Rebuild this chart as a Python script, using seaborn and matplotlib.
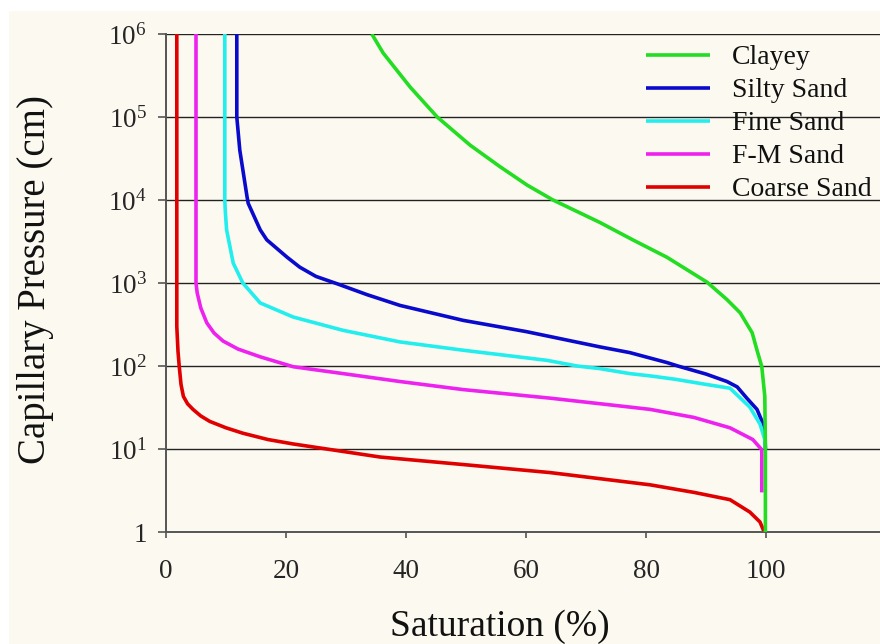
import numpy as np
import pandas as pd
import matplotlib
matplotlib.use("Agg")
import matplotlib.pyplot as plt
from matplotlib.patches import Rectangle
import seaborn as sns

# ---------------- data ----------------
soils = ["Clayey", "Silty Sand", "Fine Sand", "F-M Sand", "Coarse Sand"]

clayey_sat = [34.3, 36.2, 40.7, 45.2, 50.7, 55.7, 60.2, 64.5, 72.3, 77.8, 83.5, 90.2, 93.5, 95.7,
              97.7, 98.5, 99.3, 99.8, 99.9, 99.9]
clayey_p = [1e6, 589000, 229000, 1e5, 45700, 25100, 15100, 1e4, 5370, 3310, 2040, 1020, 631, 437,
            251, 155, 98, 43, 10, 1]

silty_sat = [11.8, 11.8, 12.3, 13.5, 13.7, 15.7, 16.8, 20.2, 22.3, 25.0, 28.5, 33.5, 39.0, 49.5, 60.0,
             72.3, 77.3, 83.5, 85.3, 90.0, 93.5, 95.2, 96.8, 98.5, 99.8, 99.9]
silty_p = [1e6, 1e5, 39800, 11000, 9120, 4370, 3310, 2040, 1550, 1200, 980, 724, 537, 355, 260,
           170, 145, 110, 100, 80, 65, 56, 41, 30, 18, 10]

fine_sat = [9.8, 9.8, 9.9, 10.1, 11.2, 12.8, 15.7, 21.2, 29.5, 39.0, 49.5, 63.5, 68.5, 72.3,
            77.3, 80.7, 85.0, 90.0, 94.0, 97.3, 99.0, 99.8, 99.9]
fine_p = [1e6, 1e4, 7000, 4370, 1740, 1000, 575, 389, 269, 195, 155, 117, 100, 93,
          81, 76, 69, 60, 54, 32, 20, 13, 10]

fm_sat = [5.0, 5.0, 5.2, 5.8, 6.8, 8.0, 9.5, 12.0, 15.7, 21.2, 29.5, 39.0, 49.5, 64.0, 77.3,
          80.7, 88.0, 94.0, 97.8, 99.3, 99.3]
fm_p = [1e6, 1000, 759, 500, 331, 250, 200, 160, 129, 98, 81, 65, 52, 41, 32,
        30, 24, 18, 13, 9.8, 3.0]

coarse_sat = [1.8, 1.8, 2.0, 2.2, 2.5, 2.9, 3.6, 4.5, 5.8, 7.3, 10.0, 12.8, 17.0, 21.2, 28.0,
              35.7, 49.5, 64.0, 80.7, 88.0, 94.0, 97.3, 99.0, 99.7]
coarse_p = [1e6, 300, 150, 100, 60, 43, 35, 30, 25, 21.5, 18, 15.5, 13, 11.5, 9.7,
            8.0, 6.5, 5.2, 3.7, 3.0, 2.45, 1.74, 1.32, 1.0]

x_ticks = [0, 20, 40, 60, 80, 100]
y_ticks = [1, 1e1, 1e2, 1e3, 1e4, 1e5, 1e6]
y_tick_labels = ["1", r"$\mathregular{10^{1}}$", r"$\mathregular{10^{2}}$", r"$\mathregular{10^{3}}$",
                 r"$\mathregular{10^{4}}$", r"$\mathregular{10^{5}}$", r"$\mathregular{10^{6}}$"]

colors = ["#22DD22", "#0A0ACC", "#22EEEE", "#EE22EE", "#E00000"]

series = {
    "Clayey": (clayey_sat, clayey_p),
    "Silty Sand": (silty_sat, silty_p),
    "Fine Sand": (fine_sat, fine_p),
    "F-M Sand": (fm_sat, fm_p),
    "Coarse Sand": (coarse_sat, coarse_p),
}
frames = []
for name in soils:
    s, p = series[name]
    frames.append(pd.DataFrame({"sat": s, "p": p, "soil": name}))
df = pd.concat(frames, ignore_index=True)

# ---------------- style ----------------
sns.set_theme(style="white")
plt.rcParams["font.family"] = ["Liberation Serif", "DejaVu Serif"]
plt.rcParams["mathtext.default"] = "regular"

cream = "#FCFAF0"
W, H = 880, 644
fig = plt.figure(figsize=(W / 100, H / 100), dpi=100)
fig.patch.set_facecolor("white")
fig.patches.append(Rectangle((9 / W, 0), 1, (H - 11) / H, transform=fig.transFigure,
                             facecolor=cream, edgecolor="none", zorder=-10))

x0, x1 = 166, 886
yb, yt = 532, 34
ax = fig.add_axes([x0 / W, (H - yb) / H, (x1 - x0) / W, (yb - yt) / H])
ax.set_facecolor(cream)

sns.lineplot(data=df, x="sat", y="p", hue="soil", hue_order=soils, palette=colors,
             estimator=None, sort=False, units="soil", linewidth=2.6, legend=False, ax=ax)
ax.set_yscale("log")
ax.set_xlim(0, 120)
ax.set_ylim(1, 1e6)

for line in ax.lines:
    line.set_solid_capstyle("butt")
    line.set_solid_joinstyle("round")
ax.lines[0].set_zorder(5)

ax.set_xticks(x_ticks)
ax.set_xticklabels([str(t) for t in x_ticks])
ax.set_yticks(y_ticks)
ax.set_yticklabels(y_tick_labels)
ax.yaxis.set_minor_locator(matplotlib.ticker.NullLocator())

ax.grid(False)
for yv in y_ticks[1:]:
    ax.axhline(yv, color="#222222", lw=1.0, zorder=1)

for side in ["top", "right"]:
    ax.spines[side].set_visible(False)
for side in ["left", "bottom"]:
    ax.spines[side].set_color("#555555")
    ax.spines[side].set_linewidth(1.4)

ax.tick_params(axis="x", direction="out", length=4.5, width=1.2, color="#555555",
               labelsize=19.5, pad=15, bottom=True)
ax.tick_params(axis="y", direction="out", length=5.8, width=1.2, color="#555555",
               labelsize=19.5, pad=8, left=True)
ax.set_xlabel("")
ax.set_ylabel("")

fig.text(500 / W, 1 - 636 / H, "Saturation (%)", ha="center", va="baseline", fontsize=27, color="#111111")
fig.text(36 / W, 1 - 280 / H, "Capillary Pressure (cm)", ha="center", va="center",
         rotation=90, fontsize=28, color="#111111")

handles = ax.lines[:5]
leg = ax.legend(handles, soils, loc="upper left", bbox_to_anchor=(646 / W, 1 - 45 / H),
                bbox_transform=fig.transFigure, frameon=False, fontsize=20,
                handlelength=2.3, handletextpad=0.8, labelspacing=0.27, borderpad=0,
                borderaxespad=0)
for t in leg.get_texts():
    t.set_color("#111111")

fig.savefig("out.png", dpi=100, facecolor=fig.get_facecolor())
